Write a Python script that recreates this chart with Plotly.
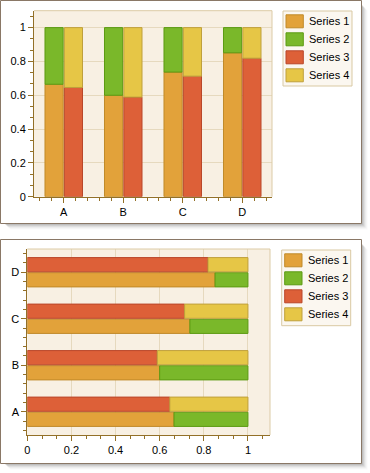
import plotly.graph_objects as go

W, H = 370, 473

categories = ["A", "B", "C", "D"]
series_names = ["Series 1", "Series 2", "Series 3", "Series 4"]
series1 = [0.665, 0.600, 0.737, 0.851]
series2 = [0.335, 0.400, 0.263, 0.149]
series3 = [0.646, 0.589, 0.713, 0.819]
series4 = [0.354, 0.411, 0.287, 0.181]
value_ticks = [0, 0.2, 0.4, 0.6, 0.8, 1]

fills = ["#E2A23A", "#7AB82A", "#DD6038", "#E6C646"]
lines = ["#C08A2A", "#5C9A12", "#B9472A", "#BFA03C"]

AXIS = "#937028"
GRID = "#E6D9BE"
FONT = "Liberation Sans"

def px(x):
    return x / W

def py(y):
    return 1 - y / H

pos = list(range(len(categories)))
fig = go.Figure()

stacks = [
    (series1, None, "g1"),
    (series2, series1, "g1"),
    (series3, None, "g2"),
    (series4, series3, "g2"),
]

# vertical chart (top)
for i, (vals, base, grp) in enumerate(stacks):
    fig.add_trace(go.Bar(
        x=pos, y=vals, base=base, offsetgroup=grp, name=series_names[i],
        marker=dict(color=fills[i], line=dict(color=lines[i], width=1)),
        xaxis="x", yaxis="y", showlegend=False, hoverinfo="skip"))

# horizontal chart (bottom)
for i, (vals, base, grp) in enumerate(stacks):
    fig.add_trace(go.Bar(
        y=pos, x=vals, base=base, offsetgroup=grp, name=series_names[i],
        orientation="h",
        marker=dict(color=fills[i], line=dict(color=lines[i], width=1)),
        xaxis="x2", yaxis="y2", showlegend=False, hoverinfo="skip"))

top_plot = (34, 10.7, 272, 196.7)
bot_plot = (27.3, 249, 270, 435)

tickfont = dict(family=FONT, size=11, color="#000000")

common_val = dict(range=[0, 1.1], tickvals=value_ticks, ticks="outside", ticklen=5,
                  tickcolor=AXIS, showline=True, linecolor=AXIS, linewidth=1,
                  showgrid=True, gridcolor=GRID, gridwidth=1, zeroline=False,
                  tickfont=tickfont,
                  minor=dict(dtick=0.2 / 3, tick0=0, ticks="outside", ticklen=3,
                             tickcolor=AXIS, showgrid=False))
common_cat = dict(range=[-0.5, 3.5], tickvals=pos, ticktext=categories, ticks="outside",
                  ticklen=5, tickcolor=AXIS, showline=True, linecolor=AXIS, linewidth=1,
                  showgrid=False, zeroline=False, tickfont=tickfont,
                  minor=dict(dtick=0.2, tick0=0, ticks="outside", ticklen=3,
                             tickcolor=AXIS, showgrid=False))

fig.update_layout(
    width=W, height=H, autosize=False,
    margin=dict(l=0, r=0, t=0, b=0, autoexpand=False),
    paper_bgcolor="#FFFFFF", plot_bgcolor="#F8F0E3",
    barmode="group", bargap=0.35, bargroupgap=0.06,
    showlegend=False,
    xaxis=dict(domain=[px(top_plot[0]), px(top_plot[2])], anchor="y", **common_cat),
    yaxis=dict(domain=[py(top_plot[3]), py(top_plot[1])], anchor="x", **common_val),
    xaxis2=dict(domain=[px(bot_plot[0]), px(bot_plot[2])], anchor="y2", **common_val),
    yaxis2=dict(domain=[py(bot_plot[3]), py(bot_plot[1])], anchor="x2", **common_cat),
)

shapes = []
annotations = []

def rect(x0, y0, x1, y1, **kw):
    d = dict(type="rect", xref="paper", yref="paper",
             x0=px(x0), y0=py(y1), x1=px(x1), y1=py(y0))
    d.update(kw)
    shapes.append(d)

def panel(x0, y0, x1, y1):
    # soft drop shadow: strips right and below the frame
    for k, op in [(1, 0.45), (2, 0.32), (3, 0.22), (4, 0.13), (5, 0.07), (6, 0.03)]:
        col = "rgba(70,70,70,%.2f)" % op
        rect(x1 + k - 1, y0 + 4 + k, x1 + k, y1 + k, fillcolor=col, line=dict(width=0), layer="below")
        rect(x0 + 4 + k, y1 + k - 1, x1 + k - 1, y1 + k, fillcolor=col, line=dict(width=0), layer="below")
    rect(x0, y0, x1, y1, line=dict(color="#8A7866", width=1), layer="below")

def plot_border(p):
    x0, y0, x1, y1 = p
    shapes.append(dict(type="line", xref="paper", yref="paper", x0=px(x0), x1=px(x1),
                       y0=py(y0), y1=py(y0), line=dict(color="#DCCBA6", width=1)))
    shapes.append(dict(type="line", xref="paper", yref="paper", x0=px(x1), x1=px(x1),
                       y0=py(y0), y1=py(y1), line=dict(color="#DCCBA6", width=1)))

def legend(lx0, ly0, lx1, ly1):
    rect(lx0, ly0, lx1, ly1, fillcolor="#FBF7F0", line=dict(color="#D9C9A3", width=1))
    for i, name in enumerate(series_names):
        cy = ly0 + 10.3 + 18 * i
        rect(lx0 + 3, cy - 6.5, lx0 + 20.3, cy + 6.5,
             fillcolor=fills[i], line=dict(color=lines[i], width=1))
        annotations.append(dict(xref="paper", yref="paper", x=px(lx0 + 24), y=py(cy),
                                xanchor="left", yanchor="middle", showarrow=False,
                                text=name, font=dict(family=FONT, size=11, color="#000000")))

panel(0.5, 0.5, 361.5, 223.5)
panel(0.5, 239.5, 361.5, 463.5)
plot_border(top_plot)
plot_border(bot_plot)
legend(283, 11, 352, 86)
legend(281.7, 250, 350.7, 325.7)

fig.update_layout(shapes=shapes, annotations=annotations)
fig.write_html("out.html", config={"displayModeBar": False},
               post_script="document.body.style.margin='0';document.body.style.overflow='hidden';")
